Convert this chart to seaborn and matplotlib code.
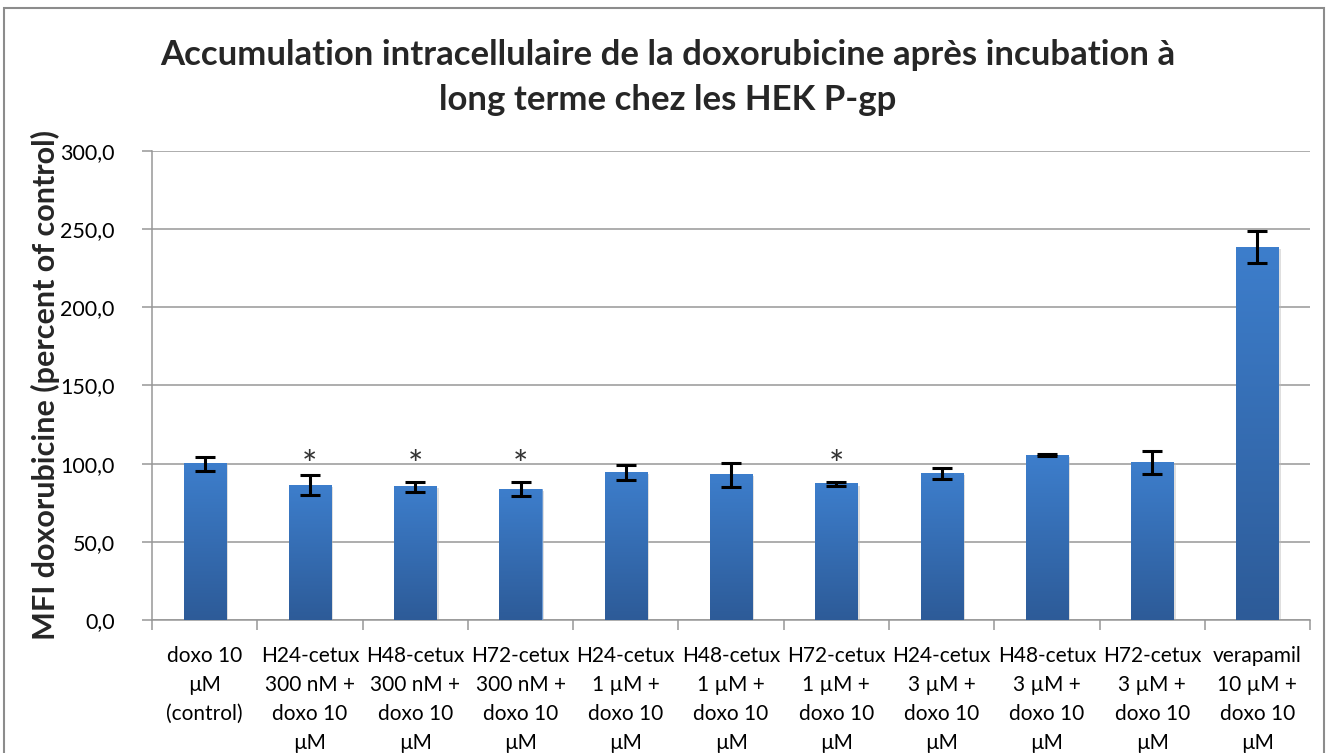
import matplotlib
matplotlib.use("Agg")
import matplotlib.pyplot as plt
import seaborn as sns
import numpy as np
import pandas as pd
from matplotlib.colors import LinearSegmentedColormap
from matplotlib.patches import Rectangle

# Data
labels = [
    "doxo 10\nµM\n(control)",
    "H24-cetux\n300 nM +\ndoxo 10\nµM",
    "H48-cetux\n300 nM +\ndoxo 10\nµM",
    "H72-cetux\n300 nM +\ndoxo 10\nµM",
    "H24-cetux\n1 µM +\ndoxo 10\nµM",
    "H48-cetux\n1 µM +\ndoxo 10\nµM",
    "H72-cetux\n1 µM +\ndoxo 10\nµM",
    "H24-cetux\n3 µM +\ndoxo 10\nµM",
    "H48-cetux\n3 µM +\ndoxo 10\nµM",
    "H72-cetux\n3 µM +\ndoxo 10\nµM",
    "verapamil\n10 µM +\ndoxo 10\nµM",
]
mfi = [100.0, 86.2, 85.3, 83.6, 94.5, 92.8, 87.0, 93.6, 105.4, 100.9, 238.4]
sem = [4.4, 6.5, 3.1, 4.5, 4.9, 7.7, 1.5, 3.6, 0.7, 7.5, 10.3]
significant = [False, True, True, True, False, False, True, False, False, False, False]
yticks = [0, 50, 100, 150, 200, 250, 300]

title = ("Accumulation intracellulaire de la doxorubicine après incubation à\n"
         "long terme chez les HEK P-gp")
ylabel = "MFI doxorubicine (percent of control)"

sns.set_theme(style="white")
plt.rcParams["font.family"] = ["Lato", "DejaVu Sans"]

df = pd.DataFrame({"cond": labels, "mfi": mfi})

fig = plt.figure(figsize=(13.28, 7.53), dpi=100)
ax = fig.add_axes([0.1145, 0.1766, 0.872, 0.6229])

sns.barplot(data=df, x="cond", y="mfi", width=0.4, errorbar=None,
            color="#3a78c4", ax=ax, zorder=3)

# gradient fill on bars (Excel style)
cmap = LinearSegmentedColormap.from_list("bar", ["#2d5b98", "#3d7ecc"])
grad = np.linspace(0, 1, 256).reshape(-1, 1)
for p in ax.patches:
    x0, w, h = p.get_x(), p.get_width(), p.get_height()
    # soft shadow
    ax.add_patch(Rectangle((x0 + 0.012, -1.0), w + 0.01, h, facecolor="#b8b8b8",
                           edgecolor="none", alpha=0.45, zorder=2))
    ax.imshow(grad, extent=[x0, x0 + w, 0, h], origin="lower", cmap=cmap,
              aspect="auto", zorder=3.5)
    p.set_edgecolor("#6a9ad6")
    p.set_linewidth(0.6)

xpos = np.arange(len(labels))
ax.errorbar(xpos, mfi, yerr=sem, fmt="none", ecolor="black", elinewidth=2.2,
            capsize=7, capthick=2.2, zorder=5)

for i, s in enumerate(significant):
    if s:
        ax.text(xpos[i], 98, "*", ha="center", va="center", fontsize=26,
                color="#333333", zorder=6)

ax.set_xlim(-0.5, len(labels) - 0.5)
ax.set_ylim(0, 300)
ax.set_yticks(yticks)
ax.set_yticklabels([f"{v:.1f}".replace(".", ",") for v in yticks], fontsize=15.5)
ax.yaxis.grid(True, color="#979797", linewidth=1.1, zorder=0)
ax.set_axisbelow(True)

ax.set_xticks(xpos)
ax.set_xticklabels(labels, fontsize=15, linespacing=1.55)
ax.set_xticks(np.arange(-0.5, len(labels)), minor=True)
ax.tick_params(axis="x", which="major", bottom=True, length=0, pad=19)
ax.tick_params(axis="x", which="minor", bottom=True, length=7, width=1.1,
               color="#979797", direction="out")
ax.tick_params(axis="y", left=True, length=7, width=1.1, color="#979797",
               direction="out", pad=20)
ax.tick_params(labelcolor="black")

for side in ["top", "right"]:
    ax.spines[side].set_visible(False)
for side in ["left", "bottom"]:
    ax.spines[side].set_color("#979797")
    ax.spines[side].set_linewidth(1.1)

ax.set_xlabel("")
ax.set_ylabel("")
fig.text(45 / 1328, 0.489, ylabel, rotation=90, ha="center", va="center",
         fontsize=22, fontweight="bold")

fig.text(0.503, 0.897, title, ha="center", va="center", fontsize=25,
         fontweight="bold", linespacing=1.5)

# chart area outline
fig.add_artist(Rectangle((0.003, -0.05), 0.994, 1.039, transform=fig.transFigure,
                         facecolor="none", edgecolor="#8c8c8c", linewidth=1.5))

fig.savefig("out.png", dpi=100)
